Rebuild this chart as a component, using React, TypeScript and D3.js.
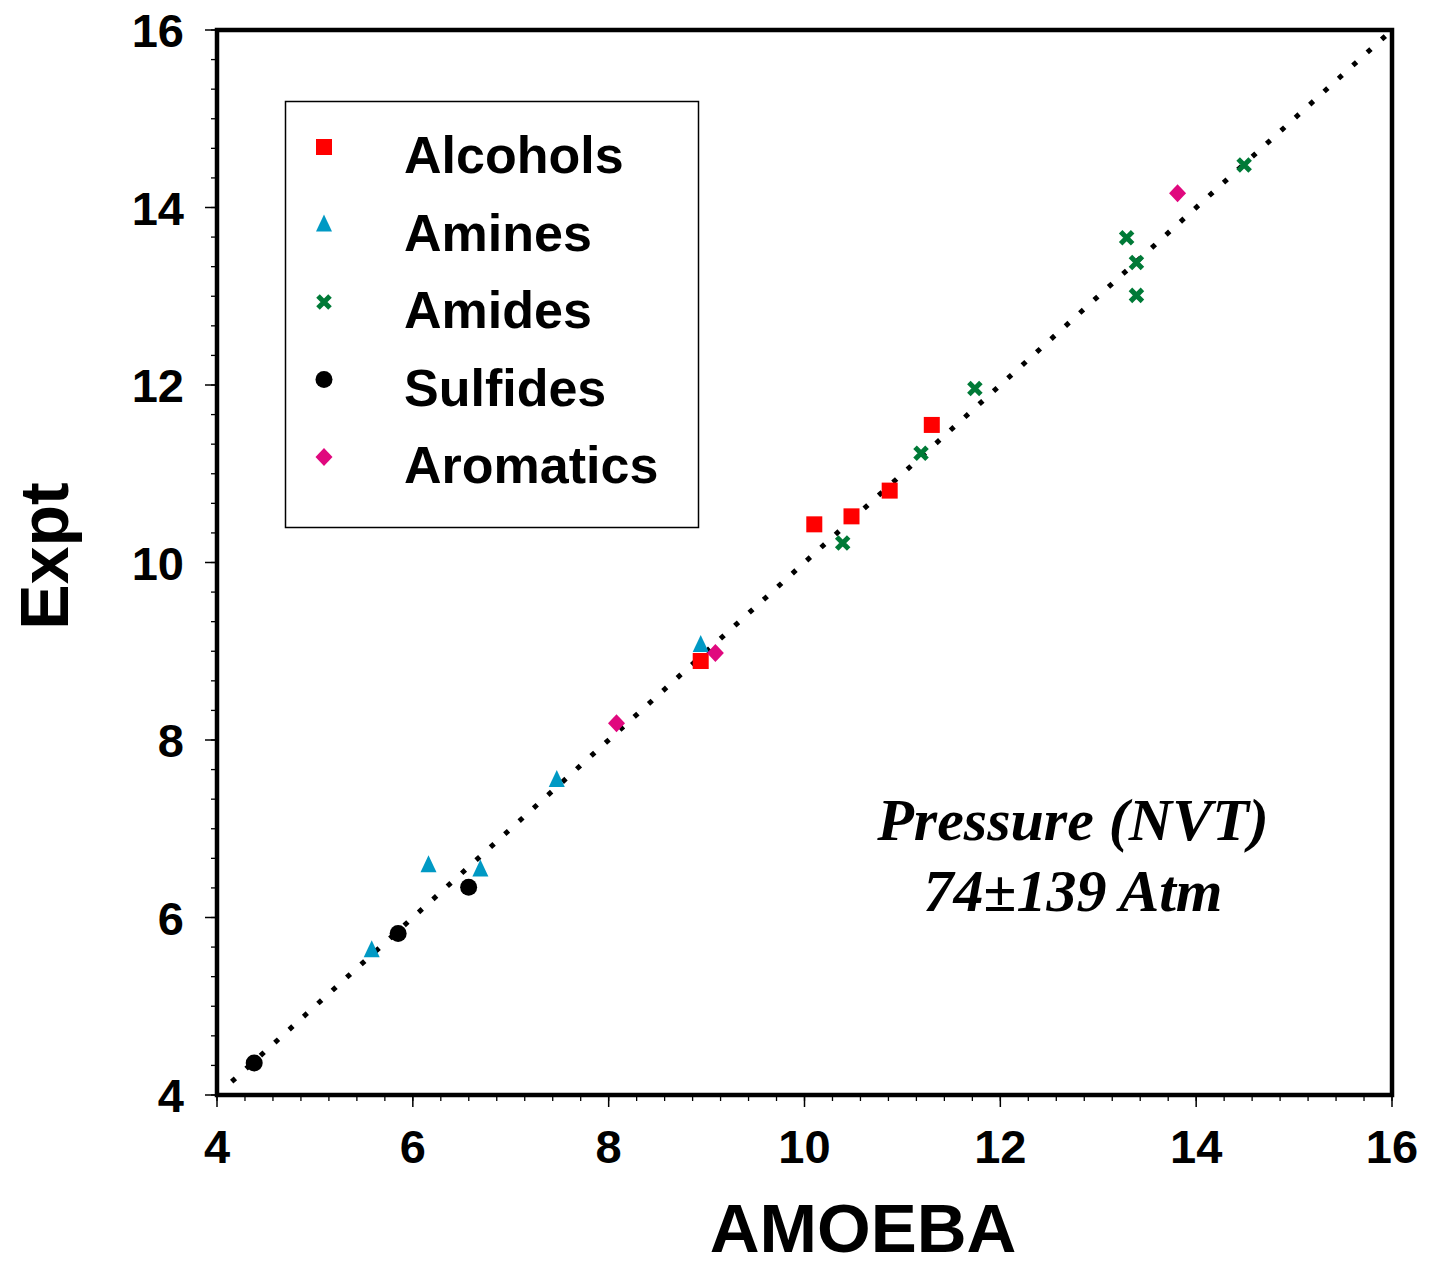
import React, { useEffect, useRef } from 'react';
import * as d3 from 'd3';

// values (AMOEBA vs Expt)
const alcoholsX = [8.94, 10.10, 10.48, 10.87, 11.30];
const alcoholsY = [8.89, 10.43, 10.52, 10.81, 11.55];
const aminesX = [5.58, 6.16, 6.69, 7.47, 8.94];
const aminesY = [5.63, 6.59, 6.54, 7.55, 9.07];
const amidesX = [10.39, 11.19, 11.74, 13.29, 13.39, 13.39, 14.49];
const amidesY = [10.22, 11.23, 11.96, 13.66, 13.38, 13.01, 14.48];
const sulfidesX = [4.38, 5.85, 6.57];
const sulfidesY = [4.36, 5.82, 6.34];
const aromaticsX = [8.08, 9.09, 13.81];
const aromaticsY = [8.19, 8.98, 14.16];

const seriesNames = ['Alcohols', 'Amines', 'Amides', 'Sulfides', 'Aromatics'];
const tickValues = [4, 6, 8, 10, 12, 14, 16];
const lineStart = 4.15;
const lineEnd = 16;

const colors: Record<string, string> = {
    Alcohols: '#ff0000',
    Amines: '#0099c4',
    Amides: '#007a37',
    Sulfides: '#000000',
    Aromatics: '#e0087e'
};

const font = '"Liberation Sans", Arial, sans-serif';

function drawMarker(g: any, name: string, cx: number, cy: number) {
    const c = colors[name];
    if (name === 'Alcohols') {
        g.append('rect').attr('x', cx - 8).attr('y', cy - 8).attr('width', 16).attr('height', 16).style('fill', c);
    } else if (name === 'Amines') {
        g.append('path')
            .attr('d', `M${cx},${cy - 10}L${cx + 8},${cy + 7}L${cx - 8},${cy + 7}Z`)
            .style('fill', c);
    } else if (name === 'Amides') {
        g.append('path')
            .attr('d', `M${cx - 6},${cy - 6}L${cx + 6},${cy + 6}M${cx + 6},${cy - 6}L${cx - 6},${cy + 6}`)
            .style('stroke', c)
            .style('stroke-width', 5)
            .style('fill', 'none');
    } else if (name === 'Sulfides') {
        g.append('circle').attr('cx', cx).attr('cy', cy).attr('r', 8.5).style('fill', c);
    } else {
        g.append('path')
            .attr('d', `M${cx},${cy - 9}L${cx + 8.5},${cy}L${cx},${cy + 9}L${cx - 8.5},${cy}Z`)
            .style('fill', c);
    }
}

export default function App() {
    const ref = useRef<SVGSVGElement>(null);

    useEffect(() => {
        const svg = d3.select(ref.current);
        svg.selectAll('*').remove();

        const left = 217, right = 1392, top = 30, bottom = 1095;

        const x = d3.scaleLinear().domain([4, 16]).range([left, right]);
        const y = d3.scaleLinear().domain([4, 16]).range([bottom, top]);

        // minor ticks (7 per x major, 3 per y major)
        const xMinor = d3.range(0, 42 + 1).map(i => 4 + i * 2 / 7);
        const yMinor = d3.range(0, 36 + 1).map(i => 4 + i / 3);

        svg.append('g').selectAll('line').data(xMinor).enter().append('line')
            .attr('x1', d => x(d)).attr('x2', d => x(d))
            .attr('y1', bottom).attr('y2', bottom + 6)
            .style('stroke', '#000').style('stroke-width', 1.3);
        svg.append('g').selectAll('line').data(yMinor).enter().append('line')
            .attr('y1', d => y(d)).attr('y2', d => y(d))
            .attr('x1', left - 6).attr('x2', left)
            .style('stroke', '#000').style('stroke-width', 1.3);

        svg.append('g').selectAll('line').data(tickValues).enter().append('line')
            .attr('x1', d => x(d)).attr('x2', d => x(d))
            .attr('y1', bottom).attr('y2', bottom + 12)
            .style('stroke', '#000').style('stroke-width', 1.5);
        svg.append('g').selectAll('line').data(tickValues).enter().append('line')
            .attr('y1', d => y(d)).attr('y2', d => y(d))
            .attr('x1', left - 12).attr('x2', left)
            .style('stroke', '#000').style('stroke-width', 1.5);

        // tick labels
        svg.append('g').selectAll('text').data(tickValues).enter().append('text')
            .attr('x', d => x(d)).attr('y', 1163)
            .attr('text-anchor', 'middle')
            .style('font-family', font).style('font-weight', 'bold').style('font-size', '47px')
            .text(d => d);
        svg.append('g').selectAll('text').data(tickValues).enter().append('text')
            .attr('x', 184).attr('y', d => y(d) + 17)
            .attr('text-anchor', 'end')
            .style('font-family', font).style('font-weight', 'bold').style('font-size', '47px')
            .text(d => d);

        // frame
        svg.append('rect')
            .attr('x', left).attr('y', top)
            .attr('width', right - left).attr('height', bottom - top)
            .style('fill', 'none').style('stroke', '#000').style('stroke-width', 4.5);

        // y = x dotted line
        svg.append('line')
            .attr('x1', x(lineStart)).attr('y1', y(lineStart))
            .attr('x2', x(lineEnd)).attr('y2', y(lineEnd))
            .style('stroke', '#000').style('stroke-width', 5)
            .style('stroke-dasharray', '5 14.4');

        // points
        const pts = svg.append('g');
        const series: [string, number[], number[]][] = [
            ['Sulfides', sulfidesX, sulfidesY],
            ['Amines', aminesX, aminesY],
            ['Alcohols', alcoholsX, alcoholsY],
            ['Amides', amidesX, amidesY],
            ['Aromatics', aromaticsX, aromaticsY]
        ];
        series.forEach(([name, xs, ys]) => {
            xs.forEach((v, i) => drawMarker(pts, name, x(v), y(ys[i])));
        });

        // legend
        const lg = svg.append('g');
        lg.append('rect')
            .attr('x', 285.5).attr('y', 101.5).attr('width', 413).attr('height', 426)
            .style('fill', '#fff').style('stroke', '#000').style('stroke-width', 1.5);
        seriesNames.forEach((name, i) => {
            const cy = 147 + i * 77.5;
            drawMarker(lg, name, 324, cy);
            lg.append('text')
                .attr('x', 404).attr('y', cy + 26)
                .style('font-family', font).style('font-weight', 'bold').style('font-size', '52px')
                .text(name);
        });

        // annotation
        const note = svg.append('g')
            .style('font-family', '"Liberation Serif", "Times New Roman", serif')
            .style('font-weight', 'bold').style('font-style', 'italic')
            .style('font-size', '60px').attr('text-anchor', 'middle');
        note.append('text').attr('x', 1073).attr('y', 840).text('Pressure (NVT)');
        note.append('text').attr('x', 1073).attr('y', 911).text('74±139 Atm');

        // axis titles
        svg.append('text')
            .attr('x', 863).attr('y', 1252)
            .attr('text-anchor', 'middle')
            .style('font-family', font).style('font-weight', 'bold').style('font-size', '69px')
            .text('AMOEBA');
        svg.append('text')
            .attr('transform', 'translate(68, 556) rotate(-90)')
            .attr('text-anchor', 'middle')
            .style('font-family', font).style('font-weight', 'bold').style('font-size', '68px')
            .text('Expt');
    }, []);

    return (
        <svg ref={ref} width={1430} height={1269}
            style={{ position: 'absolute', left: 0, top: 0, background: '#fff' }} />
    );
}
